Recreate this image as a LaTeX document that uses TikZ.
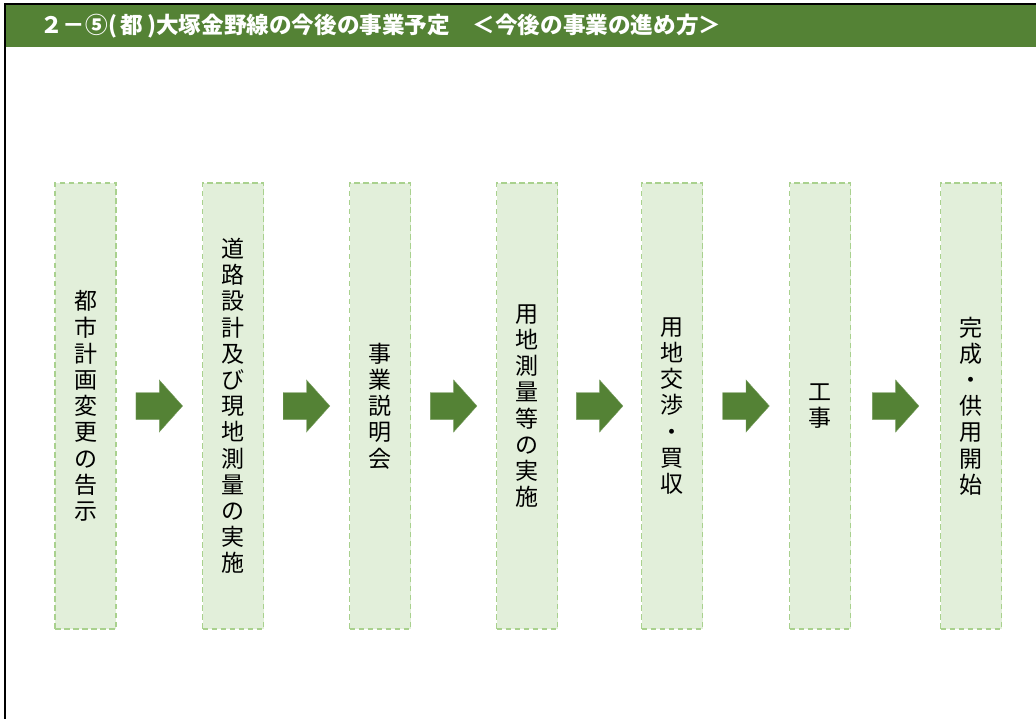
\documentclass[tikz,border=0pt]{standalone}
\usepackage{fontspec}
\newfontfamily\jp{Noto Sans CJK JP}
\usetikzlibrary{calc}
\definecolor{hdrgreen}{HTML}{548235}
\definecolor{boxfill}{HTML}{E2EFDA}
\definecolor{boxline}{HTML}{A9D18E}
\tikzset{
  stepbox/.style={draw=boxline, fill=boxfill, line width=1.4pt,
    dash pattern=on 5.5pt off 3.5pt, minimum width=61pt, minimum height=446pt,
    inner sep=0pt, align=center, font=\jp\fontsize{23}{26.2}\selectfont},
  flowarrow/.style={fill=hdrgreen, draw=hdrgreen!80!white, line width=0.4pt, line join=miter},
  title/.style={text=white, font=\jp\bfseries\fontsize{22.6}{26}\selectfont, anchor=west, inner sep=0pt}
}
\newcommand\flowarr[3]{%
  \coordinate (#3) at ($(#1.east)!0.5!(#2.west)$);
  \filldraw[flowarrow] ([shift={(-23.3,-13.5)}]#3) -- ([shift={(0,-13.5)}]#3) -- ([shift={(0,-26)}]#3)
    -- ([shift={(23.3,0)}]#3) -- ([shift={(0,26)}]#3) -- ([shift={(0,13.5)}]#3)
    -- ([shift={(-23.3,13.5)}]#3) -- cycle;}
\begin{document}
\begin{tikzpicture}[x=1pt,y=-1pt]
\useasboundingbox (0,0) rectangle (1036,719);
\fill[white] (0,0) rectangle (1036,719);
% header
\fill[hdrgreen] (5.7,4.7) rectangle (1036,47.5);
\draw[line width=2pt, black] (4.7,719) -- (4.7,3.7) -- (1036,3.7);
\node[title] (hdr) at (40,26.5) {２－⑤(\,都\,)大塚金野線の今後の事業予定　＜今後の事業の進め方＞};
% steps
\node[stepbox] (b1) at (85.5,406) {都\\市\\計\\画\\変\\更\\の\\告\\示};
\node[stepbox] (b2) at (233,406) {道\\路\\設\\計\\及\\び\\現\\地\\測\\量\\の\\実\\施};
\node[stepbox] (b3) at (380,406) {事\\業\\説\\明\\会};
\node[stepbox] (b4) at (527.2,406) {用\\地\\測\\量\\等\\の\\実\\施};
\node[stepbox] (b5) at (672,406) {用\\地\\交\\渉\\・\\買\\収};
\node[stepbox] (b6) at (820,406) {工\\事};
\node[stepbox] (b7) at (971.2,406) {完\\成\\・\\供\\用\\開\\始};
% arrows
\flowarr{b1}{b2}{a1}
\flowarr{b2}{b3}{a2}
\flowarr{b3}{b4}{a3}
\flowarr{b4}{b5}{a4}
\flowarr{b5}{b6}{a5}
\flowarr{b6}{b7}{a6}
\end{tikzpicture}
\end{document}
